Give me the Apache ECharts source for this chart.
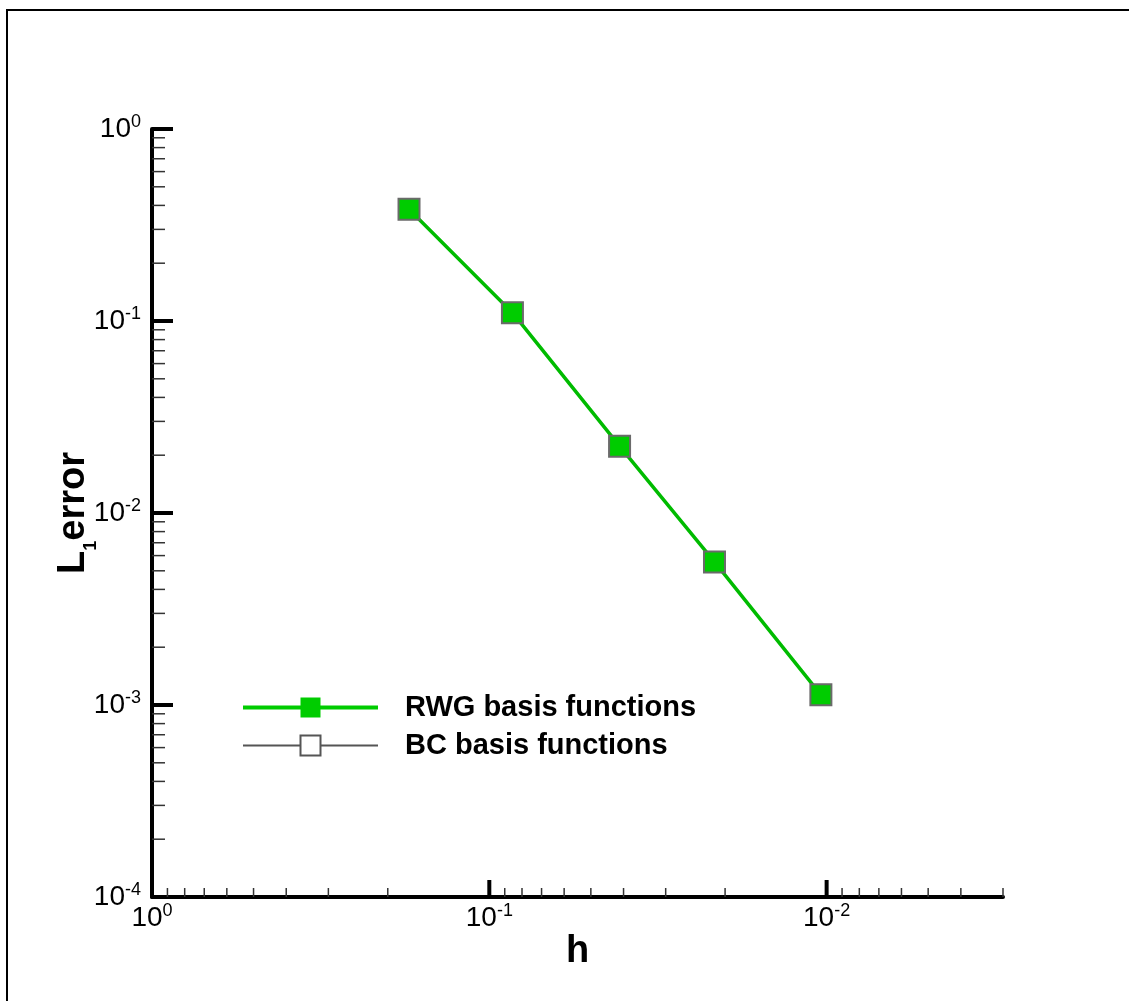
<!DOCTYPE html>
<html>
<head>
<meta charset="utf-8">
<script src="https://cdn.jsdelivr.net/npm/echarts@6/dist/echarts.min.js"></script>
<style>
  html, body { margin: 0; padding: 0; background: #fff; }
  #chart { width: 1129px; height: 1001px; }
</style>
</head>
<body>
<div id="chart"></div>
<script>
// mesh size h and L1 error
var hValues = [0.173, 0.0854, 0.0411, 0.0215, 0.0104];
var rwgError = [0.382, 0.1105, 0.0223, 0.00556, 0.00113];
var bcError = [];   // only shown in the legend

var xMin = 0.003, xMax = 1;
var yMin = 1e-4, yMax = 1;
var xMajor = [1, 0.1, 0.01];
var yMajor = [1, 0.1, 0.01, 0.001, 0.0001];
var mant = [2, 3, 4, 5, 6, 7, 8, 9];

var xMinor = [], yMinor = [];
[0.001, 0.01, 0.1].forEach(function (d) {
  mant.forEach(function (m) {
    var v = m * d;
    if (v >= xMin - 1e-12 && v < xMax) xMinor.push([v, yMin]);
  });
});
[0.0001, 0.001, 0.01, 0.1].forEach(function (d) {
  mant.forEach(function (m) { yMinor.push([xMax, m * d]); });
});

var font = "'Liberation Sans', Arial, Helvetica, sans-serif";

function powLabel(v) {
  var l = Math.log10(v);
  var e = Math.round(l);
  if (Math.abs(l - e) > 1e-6) return '';
  return '{b|10}{s|' + e + '}';
}

var labelRich = {
  b: { fontSize: 28, fontFamily: font, color: '#000', lineHeight: 32 },
  s: { fontSize: 18, fontFamily: font, color: '#000', lineHeight: 18, verticalAlign: 'top' }
};

// short tick marks drawn from axis values via the axes' own scales
function tickSeries(data, dx, dy, width, color) {
  return {
    type: 'custom',
    silent: true,
    clip: false,
    z: 5,
    data: data,
    renderItem: function (params, api) {
      var p = api.coord([api.value(0), api.value(1)]);
      return {
        type: 'line',
        shape: { x1: p[0], y1: p[1], x2: p[0] + dx, y2: p[1] + dy },
        style: { stroke: color, lineWidth: width }
      };
    }
  };
}

var chart = echarts.init(document.getElementById('chart'));

var option = {
  backgroundColor: '#fff',
  animation: false,
  grid: { left: 152, right: 126, top: 129, bottom: 104, containLabel: false },
  graphic: [{
    type: 'rect',
    silent: true,
    shape: { x: 7, y: 10, width: 1300, height: 1200 },
    style: { fill: 'none', stroke: '#000', lineWidth: 2 }
  }],
  legend: {
    orient: 'vertical',
    left: 236,
    top: 688,
    itemWidth: 135,
    itemHeight: 25,
    itemGap: 9,
    data: [
      { name: 'RWG basis functions', lineStyle: { width: 4, color: '#00cc00' }, itemStyle: { borderWidth: 0 } },
      { name: 'BC basis functions' }
    ],
    textStyle: { fontSize: 29, fontWeight: 'bold', fontFamily: font, color: '#000', padding: [0, 0, 0, 22] }
  },
  xAxis: {
    type: 'log',
    inverse: true,
    min: xMin,
    max: xMax,
    name: 'h',
    nameLocation: 'middle',
    nameGap: 36,
    nameMoveOverlap: false,
    nameTextStyle: { fontSize: 38, fontWeight: 'bold', fontFamily: font, color: '#000' },
    axisLine: { onZero: false, lineStyle: { color: '#000', width: 4 } },
    axisTick: { show: false },
    splitLine: { show: false },
    axisLabel: { margin: 5, formatter: powLabel, rich: labelRich }
  },
  yAxis: {
    type: 'log',
    min: yMin,
    max: yMax,
    name: '{b|L}{sub|1}{b|error}',
    nameLocation: 'middle',
    nameRotate: 90,
    nameGap: 58,
    nameMoveOverlap: false,
    nameTextStyle: {
      rich: {
        b: { fontSize: 38, fontWeight: 'bold', fontFamily: font, color: '#000', lineHeight: 40 },
        sub: { fontSize: 18, fontWeight: 'bold', fontFamily: font, color: '#000', lineHeight: 18, verticalAlign: 'bottom', padding: [0, 0, -6, 0] }
      }
    },
    axisLine: { onZero: false, lineStyle: { color: '#000', width: 4 } },
    axisTick: { show: false },
    splitLine: { show: false },
    axisLabel: { margin: 11, formatter: powLabel, rich: labelRich }
  },
  series: [
    {
      name: 'RWG basis functions',
      type: 'line',
      data: hValues.map(function (h, i) { return [h, rwgError[i]]; }),
      symbol: 'rect',
      symbolSize: 21,
      z: 10,
      lineStyle: { color: '#00bb00', width: 3.5 },
      itemStyle: { color: '#00cc00', borderColor: '#6a6a6a', borderWidth: 2 }
    },
    {
      name: 'BC basis functions',
      type: 'line',
      data: bcError,
      symbol: 'rect',
      symbolSize: 21,
      lineStyle: { color: '#555', width: 1 },
      itemStyle: { color: '#fff', borderColor: '#555', borderWidth: 1.5 }
    },
    tickSeries(xMajor.map(function (v) { return [v, yMin]; }), 0, -17, 4, '#000'),
    tickSeries(yMajor.map(function (v) { return [xMax, v]; }), 21, 0, 4, '#000'),
    tickSeries(xMinor, 0, -9, 1.5, '#333'),
    tickSeries(yMinor, 13, 0, 1.5, '#333')
  ]
};

chart.setOption(option);
</script>
</body>
</html>
